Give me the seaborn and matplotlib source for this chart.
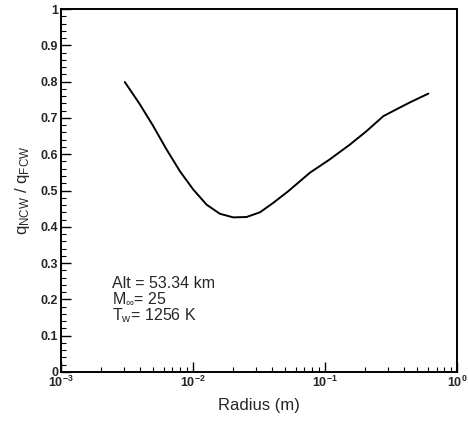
import numpy as np
import pandas as pd
import seaborn as sns
import matplotlib
matplotlib.use('Agg')
import matplotlib.pyplot as plt
from matplotlib.ticker import MultipleLocator, LogLocator, FixedLocator

# values
radius = [0.00305, 0.00396, 0.00500, 0.00632, 0.00798, 0.01005, 0.0127,
          0.0160, 0.0202, 0.0255, 0.0322, 0.0406, 0.0527, 0.0769, 0.109,
          0.155, 0.207, 0.277, 0.349, 0.441, 0.607]
q_ratio = [0.799, 0.738, 0.678, 0.613, 0.553, 0.503, 0.461,
           0.436, 0.426, 0.427, 0.440, 0.466, 0.498, 0.549, 0.586,
           0.627, 0.664, 0.705, 0.724, 0.743, 0.767]

ytick_vals = [0, 0.1, 0.2, 0.3, 0.4, 0.5, 0.6, 0.7, 0.8, 0.9, 1.0]
ytick_labels = ['0', '0.1', '0.2', '0.3', '0.4', '0.5', '0.6', '0.7', '0.8', '0.9', '1']

sns.set_style('white')
plt.rcParams['font.family'] = ['Liberation Sans', 'DejaVu Sans']
plt.rcParams['mathtext.fontset'] = 'custom'
plt.rcParams['mathtext.rm'] = 'Liberation Sans'
plt.rcParams['mathtext.it'] = 'Liberation Sans'
plt.rcParams['mathtext.bf'] = 'Liberation Sans:bold'

df = pd.DataFrame({'Radius': radius, 'q': q_ratio})

fig = plt.figure(figsize=(4.68, 4.23), dpi=100)
ax = fig.add_axes([0.130, 0.1206, 0.8465, 0.858])

sns.lineplot(data=df, x='Radius', y='q', color='black', linewidth=1.4, ax=ax)
ax.set_xscale('log')
ax.set_xlim(1e-3, 1e0)
ax.set_ylim(0, 1)

ax.xaxis.set_major_locator(LogLocator(base=10, numticks=10))
ax.xaxis.set_minor_locator(LogLocator(base=10, subs=np.arange(2, 10), numticks=10))
ax.yaxis.set_major_locator(FixedLocator(ytick_vals))
ax.set_yticklabels(ytick_labels)
ax.yaxis.set_minor_locator(MultipleLocator(0.02))

ax.tick_params(which='major', direction='in', length=7, width=1, labelsize=9,
               bottom=True, left=True, top=False, right=False, pad=2,
               color='black')
ax.tick_params(which='minor', direction='in', length=3.5, width=0.8,
               bottom=True, left=True, top=False, right=False, color='black')
for lab in ax.get_yticklabels() + ax.get_xticklabels():
    lab.set_fontweight('bold')

for s in ax.spines.values():
    s.set_visible(True)
    s.set_color('black')
    s.set_linewidth(1.4)

ax.set_xlabel('Radius (m)', fontsize=12, labelpad=6)
ax.set_ylabel(r'q$_{\mathrm{NCW}}$ / q$_{\mathrm{FCW}}$', fontsize=12, labelpad=6)

ax.text(0.13, 0.265, 'Alt = 53.34 km\n' + r'M$_{\infty}$= 25' + '\n' + r'T$_{\mathrm{w}}$= 1256 K',
        transform=ax.transAxes, fontsize=11.5, linespacing=0.95, va='top', ha='left')

fig.savefig('out.png', dpi=100)
